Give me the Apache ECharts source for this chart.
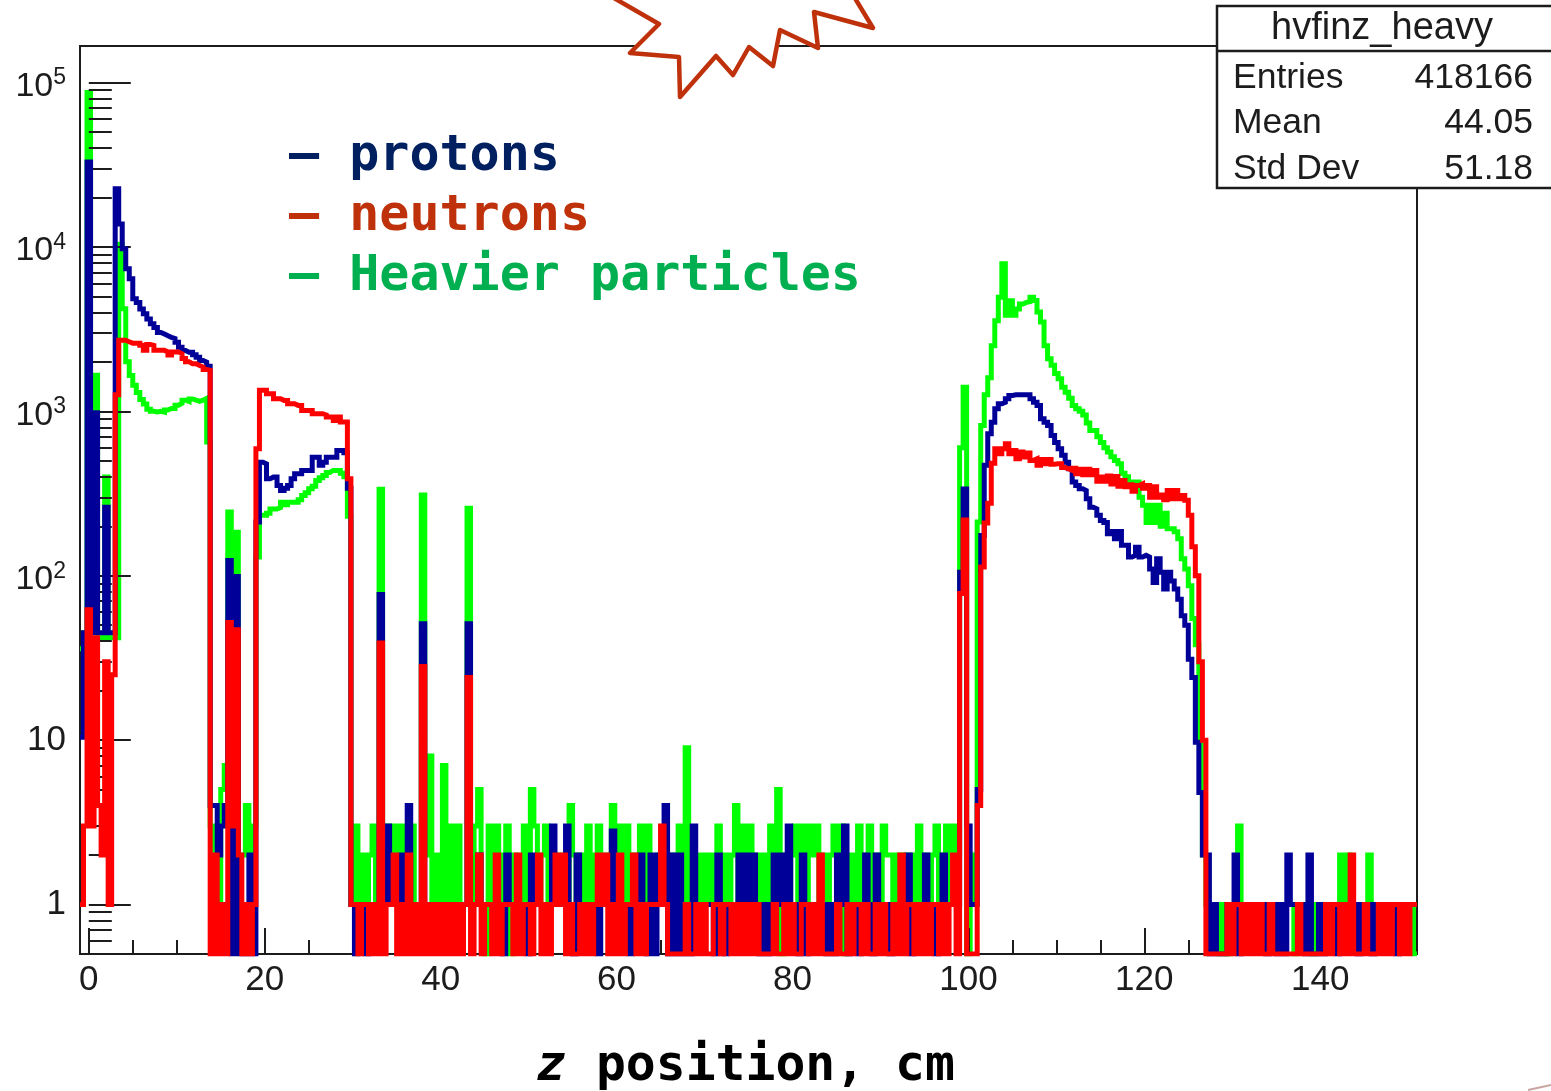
<!DOCTYPE html>
<html>
<head>
<meta charset="utf-8">
<title>hvfinz_heavy</title>
<script src="https://cdn.jsdelivr.net/npm/echarts@6/dist/echarts.min.js"></script>
<style>
	* { margin: 0; padding: 0; }
	body { background: #fff; overflow: hidden; }
	#main { width: 1551px; height: 1091px; }
</style>
</head>
<body>
<div id="main"></div>
<script>
// histogram bins: 380 bins of 0.4 cm from -1 to 151, empty bins sit at the 0.5 floor
const zMin = -1
const zMax = 151
const binWidth = 0.4

const heavierCounts = [
	36,45,87000,45,1660,42,42,398,42,42,
	42,10400,4210,2000,1650,1440,1300,1180,1110,1030,
	1000,990,1000,990,1020,1040,1040,1090,1120,1170,
	1150,1190,1170,1150,1170,1200,650,3,1,1,
	5,7,244,3,184,2,2,4,2,3,
	130,233,233,240,255,255,260,280,270,280,
	280,280,290,308,320,338,350,380,395,407,
	425,437,437,437,420,400,230,1,3,1,
	2,1,2,3,1,336,3,1,3,1,
	3,1,3,1,3,1,1,310,2,8,
	1,2,1,7,1,3,1,3,1,1,
	257,1,3,5,1,0.5,3,1,3,1,
	2,3,0.5,2,1,1,3,1,5,3,
	1,2,3,1,1,2,1,2,1,4,
	2,1,2,1,3,1,2,3,1,2,
	1,4,1,3,1,3,1,2,1,3,
	1,3,1,1,2,1,2,1,2,1,
	3,1,9,1,1,2,1,2,1,2,
	1,3,1,2,1,2,4,1,3,1,
	3,1,2,1,2,1,3,1,5,0.5,
	2,1,2,3,1,3,1,3,2,3,
	1,2,1,2,3,2,3,0.5,1,2,
	1,3,1,2,3,1,2,1,3,2,
	2,1,2,1,2,1,2,1,3,1,
	2,1,2,3,1,2,3,1,3,2,
	600,1400,0.5,2,1,212,821,1260,1600,2510,
	3560,4950,7900,3840,4700,3840,4200,4500,4600,4650,
	4950,4730,4018,3490,2510,2090,1905,1700,1580,1400,
	1306,1200,1087,1037,1000,950,850,765,765,700,
	646,600,565,530,503,480,420,400,372,372,
	372,300,268,211,268,211,268,200,240,193,
	193,185,168,127,110,87,55,38,10,2,
	1,1,1,1,0.5,1,0.5,1,1,3,
	1,1,1,1,1,1,1,1,1,1,
	1,1,1,1,1,0.5,1,1,1,1,
	0.5,1,1,1,1,1,1,1,2,1,
	2,1,1,1,1,1,2,1,1,1,
	1,1,1,1,1,1,1,1,1,0.5
]

const protonCounts = [
	10.4,45,32900,45,980,45,45,261,45,45,
	22600,13800,9750,7370,6400,4840,4600,4200,3920,3650,
	3410,3240,3020,2950,2880,2820,2770,2630,2455,2345,
	2290,2290,2208,2135,2040,1995,1880,4,4,2,
	3,4,124,0.5,99,0.5,0.5,0.5,2,0.5,
	212,491,480,389,398,398,354,330,340,354,
	389,417,417,437,437,437,525,525,470,490,
	525,525,525,578,578,560,340,1,0.5,1,
	1,0.5,1,1,1,77,1,3,1,1,
	1,2,1,4,1,1,1,51,1,1,
	1,1,1,1,1,1,1,1,1,1,
	51,1,1,2,1,1,1,1,1,1,
	0.5,2,1,1,1,1,1,0.5,2,1,
	1,1,1,1,3,1,1,1,3,1,
	0.5,2,1,1,1,1,1,0.5,1,1,
	1,2.8,1,1,1,1,0.5,1,1,2,
	1,0.5,2,0.5,2,1,4,0.5,2,0.5,
	2,0.5,0.5,0.5,3,1,1,1,1,1,
	0.5,2,1,0.5,1,1,1,2,1,2,
	1,2,1,0.5,1,0.5,1,2,1,2,
	1,3,1,1,0.5,2,0.5,1,1,1,
	1,1,0.5,1,0.5,2,1,3,0.5,1,
	1,0.5,1,2,1,0.5,2,1,1,1,
	0.5,1,1,1,1,2,0.5,1,1,1,
	2,1,1,0.5,1,2,1,1,1,1,
	105,337,3,1,1,5,176,470,730,857,
	1037,1112,1135,1192,1250,1260,1260,1260,1260,1260,
	1192,1135,1087,901,857,820,713,646,592,540,
	490,447,372,354,338,330,294,261,255,233,
	217,211,180,186,168,186,153,153,130,133,
	149,130,133,130,110,91,127,105,83,105,
	93,83,72,57,50,31,24,9.7,4.8,2,
	2,0.5,1,0.5,0.5,0.5,1,1,2,0.5,
	1,1,1,1,1,1,1,0.5,1,1,
	0.5,1,0.5,2,1,1,1,1,0.5,2,
	0.5,0.5,1,0.5,1,1,1,0.5,1,1,
	1,1,1,0.5,1,1,1,0.5,1,1,
	1,1,1,1,0.5,1,1,1,1,1
]

const neutronCounts = [
	1,3,62,3,42,4,2,30,1,25,
	1260,2710,2710,2650,2600,2600,2600,2520,2350,2550,
	2520,2350,2350,2350,2300,2200,2300,2300,2240,2100,
	2000,1950,1950,1900,1860,1800,1780,0.5,2,0.5,
	1,0.5,52,3,47,2,0.5,1,0.5,1,
	592,1343,1343,1280,1280,1192,1192,1166,1166,1112,
	1112,1087,1087,1013,1013,1013,967,967,967,950,
	923,923,881,923,860,860,389,1,1,0.5,
	1,1,0.5,1,0.5,39,0.5,1,1,2,
	0.5,1,0.5,2,0.5,1,0.5,28,0.5,1,
	0.5,1,0.5,1,0.5,1,0.5,1,0.5,1,
	24,0.5,1,2,0.5,1,1,0.5,2,0.5,
	1,1,1,0.5,2,0.5,1,1,0.5,1,
	2,0.5,1,0.5,1,2,1,2,0.5,1,
	0.5,0.5,1,0.5,1,0.5,1,2,1,2,
	0.5,1,0.5,2,0.5,1,1,2,0.5,1,
	0.5,1,1,1,1,3,1,0.5,0.5,0.5,
	0.5,0.5,1,0.5,0.5,1,0.5,1,0.5,0.5,
	1,1,0.5,1,1,0.5,1,0.5,1,0.5,
	1,0.5,1,0.5,0.5,0.5,0.5,1,0.5,0.5,
	1,0.5,1,0.5,0.5,1,1,0.5,1,0.5,
	2,0.5,0.5,0.5,0.5,1,0.5,0.5,1,0.5,
	1,1,0.5,1,0.5,0.5,1,0.5,1,0.5,
	0.5,1,0.5,2,0.5,1,1,0.5,1,0.5,
	1,0.5,1,1,0.5,1,0.5,1,2,0.5,
	78,218,0.5,0.5,0.5,4,113,209,276,484,
	592,552,592,635,552,578,514,565,527,558,
	503,514,470,510,480,510,477,480,480,455,
	447,437,450,417,445,411,445,411,437,375,
	398,375,405,362,402,350,380,348,358,327,
	354,362,340,354,300,348,300,310,290,330,
	294,330,294,308,288,233,150,100,30,10,
	0.5,0.5,0.5,0.5,0.5,0.5,1,0.5,1,1,
	0.5,1,0.5,1,0.5,1,0.5,0.5,1,0.5,
	0.5,0.5,0.5,0.5,0.5,0.5,1,0.5,0.5,0.5,
	0.5,0.5,0.5,0.5,1,0.5,1,1,0.5,1,
	0.5,2,0.5,0.5,0.5,1,0.5,0.5,0.5,1,
	0.5,1,0.5,1,1,0.5,1,0.5,1,1
]

const xMajorTicks = [0, 20, 40, 60, 80, 100, 120, 140]
const xMinorTicks = [5, 10, 15, 25, 30, 35, 45, 50, 55, 65, 70, 75, 85, 90, 95, 105, 110, 115, 125, 130, 135, 145, 150]
const yMajorTicks = [1, 10, 100, 1000, 10000, 100000]
const yMinorTicks = [
	0.6, 0.7, 0.8, 0.9,
	2, 3, 4, 5, 6, 7, 8, 9,
	20, 30, 40, 50, 60, 70, 80, 90,
	200, 300, 400, 500, 600, 700, 800, 900,
	2000, 3000, 4000, 5000, 6000, 7000, 8000, 9000,
	20000, 30000, 40000, 50000, 60000, 70000, 80000, 90000
]

const statsRows = [['Entries', '418166'], ['Mean', '44.05'], ['Std Dev', '51.18']]
const legendRows = [['– protons', '#002060'], ['– neutrons', '#BF310B'], ['– Heavier particles', '#00B050']]

const inkColor = '#1c1c1c'
const sansFont = '"Liberation Sans", Arial, sans-serif'
const monoFont = '"DejaVu Sans Mono", monospace'

function toSteps(counts) {
	const steps = counts.map((count, i) => [zMin + i * binWidth, count])
	steps.push([zMax, counts[counts.length - 1]])
	return steps
}

function histSeries(name, counts, color, z) {
	return {
		name: name,
		type: 'line',
		step: 'end',
		data: toSteps(counts),
		showSymbol: false,
		symbol: 'none',
		z: z,
		silent: true,
		lineStyle: { color: color, width: 5, join: 'miter', cap: 'butt' }
	}
}

function yLabel(value) {
	if (value === 1) return '{plain|1}'
	if (value === 10) return '{plain|10}'
	return '{d|10}{sup|' + Math.round(Math.log10(value)) + '}'
}

function statsBox() {
	const items = [
		{ type: 'rect', shape: { x: 1217, y: 6, width: 400, height: 182 }, style: { fill: '#fff', stroke: inkColor, lineWidth: 2.5 }, z: 100 },
		{ type: 'line', shape: { x1: 1217, y1: 51, x2: 1551, y2: 51 }, style: { stroke: inkColor, lineWidth: 2.5 }, z: 101 },
		{ type: 'text', x: 1382, y: 29, style: { text: 'hvfinz_heavy', font: '38px ' + sansFont, fill: inkColor, textAlign: 'center', textVerticalAlign: 'middle' }, z: 101 }
	]
	statsRows.forEach(function(row, index) {
		const y = 78 + index * 45.5
		items.push({ type: 'text', x: 1233, y: y, style: { text: row[0], font: '35.5px ' + sansFont, fill: inkColor, textAlign: 'left', textVerticalAlign: 'middle' }, z: 101 })
		items.push({ type: 'text', x: 1533, y: y, style: { text: row[1], font: '35.5px ' + sansFont, fill: inkColor, textAlign: 'right', textVerticalAlign: 'middle' }, z: 101 })
	})
	return items
}

function legendText() {
	return legendRows.map(function(row, index) {
		return {
			type: 'text',
			x: 289,
			y: 157 + index * 60,
			z: 90,
			style: { text: row[0], font: 'bold 50px ' + monoFont, fill: row[1], textAlign: 'left', textVerticalAlign: 'middle' }
		}
	})
}

const chart = echarts.init(document.getElementById('main'), null, { renderer: 'canvas' })

chart.setOption({
	animation: false,
	backgroundColor: '#fff',
	grid: {
		show: true,
		left: 80,
		top: 46,
		width: 1337,
		height: 908,
		outerBoundsMode: 'none',
		borderColor: inkColor,
		borderWidth: 2,
		backgroundColor: '#fff'
	},
	xAxis: [{
		type: 'value',
		min: zMin,
		max: zMax,
		z: 2,
		axisLine: { show: false },
		splitLine: { show: false },
		axisTick: { show: true, inside: true, length: 26, customValues: xMajorTicks, lineStyle: { color: inkColor, width: 2 } },
		axisLabel: { show: true, customValues: xMajorTicks, margin: 9, color: inkColor, fontFamily: 'Liberation Sans', fontSize: 35 },
		name: '{i|z} position, cm',
		nameLocation: 'middle',
		nameGap: 88,
		nameTextStyle: {
			color: '#000',
			fontFamily: 'DejaVu Sans Mono',
			fontWeight: 'bold',
			fontSize: 49.7,
			padding: [0, 6, 0, 0],
			rich: {
				i: { fontFamily: 'DejaVu Sans Mono', fontWeight: 'bold', fontStyle: 'italic', fontSize: 49.7, color: '#000' }
			}
		}
	}, {
		type: 'value',
		position: 'bottom',
		min: zMin,
		max: zMax,
		z: 2,
		axisLine: { show: false },
		splitLine: { show: false },
		axisLabel: { show: false },
		axisTick: { show: true, inside: true, length: 14, customValues: xMinorTicks, lineStyle: { color: inkColor, width: 2 } }
	}],
	yAxis: [{
		type: 'log',
		logBase: 10,
		min: 0.5,
		max: 166900,
		z: 2,
		axisLine: { show: false },
		splitLine: { show: false },
		axisTick: { show: true, inside: true, length: 42, customValues: yMajorTicks, lineStyle: { color: inkColor, width: 2 } },
		axisLabel: {
			show: true,
			customValues: yMajorTicks,
			margin: 14,
			color: inkColor,
			formatter: yLabel,
			rich: {
				plain: { fontFamily: 'Liberation Sans', fontSize: 35, color: inkColor },
				d: { fontFamily: 'Liberation Sans', fontSize: 34, color: inkColor, padding: [8, 0, 0, 0] },
				sup: { fontFamily: 'Liberation Sans', fontSize: 23, color: inkColor, verticalAlign: 'top', padding: [5, 0, 0, 0] }
			}
		}
	}, {
		type: 'log',
		logBase: 10,
		min: 0.5,
		max: 166900,
		z: 2,
		position: 'left',
		axisLine: { show: false },
		splitLine: { show: false },
		axisLabel: { show: false },
		axisTick: { show: true, inside: true, length: 23, customValues: yMinorTicks, lineStyle: { color: inkColor, width: 2 } }
	}],
	series: [
		histSeries('Heavier particles', heavierCounts, '#00ff00', 1),
		histSeries('protons', protonCounts, '#000099', 3),
		histSeries('neutrons', neutronCounts, '#ff0000', 4)
	],
	graphic: {
		elements: [
			// callout outline coming down from the slide above the plot
			{
				type: 'polygon',
				z: 80,
				shape: { points: [[600, -10], [659, 24], [630, 53], [679, 57], [680, 97], [716, 56], [733, 75], [749, 47], [773, 66], [780, 30], [818, 48], [814, 12], [873, 28], [850, -10]] },
				style: { fill: '#fff', stroke: '#BF310B', lineWidth: 4.5, lineJoin: 'round' }
			},
			{
				type: 'polyline',
				z: 80,
				shape: { points: [[1528, 1090], [1551, 1085]] },
				style: { stroke: '#c9a5a0', lineWidth: 2, fill: null }
			}
		].concat(legendText(), statsBox())
	}
})
</script>
</body>
</html>
